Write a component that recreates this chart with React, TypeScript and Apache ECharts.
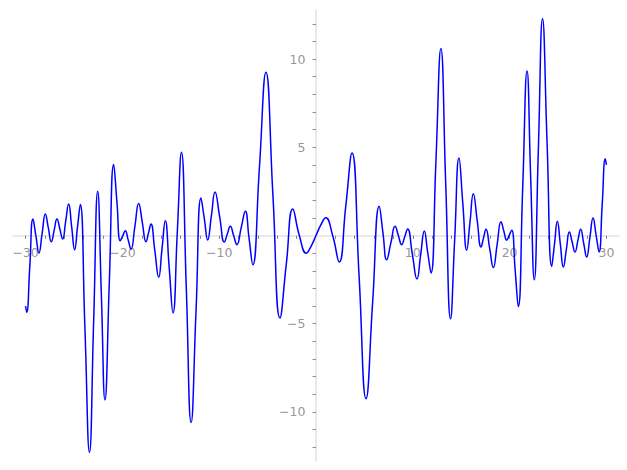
import React, { useEffect, useRef } from "react";
import * as echarts from "echarts";

// x values (left half, then right half)
const xs: number[] = [
  -30, -29.88, -29.56, -29.24, -28.93, -28.62, -28.29, -27.96, -27.65, -27.34,
  -27.05, -26.76, -26.46, -26.17, -25.86, -25.55, -25.24, -24.93, -24.64, -24.35,
  -23.87, -23.4, -22.97, -22.55, -22.17, -21.8, -21.35, -20.9, -20.56, -20.22,
  -19.96, -19.7, -19.4, -19.11, -18.71, -18.32, -17.94, -17.56, -17.3, -17.05,
  -16.65, -16.25, -15.91, -15.57, -15.17, -14.77, -14.33, -13.9, -13.4, -12.9,
  -12.39, -11.88, -11.53, -11.19, -10.81, -10.43, -9.95, -9.47, -9.16, -8.85,
  -8.51, -8.17, -7.73, -7.3, -6.92, -6.53, -5.85, -5.17, -4.45, -3.72,
  -3.06, -2.4, -1.72, -1.0, -0.5,
  0, 0.5, 1.0, 1.72, 2.4, 3.06, 3.72, 4.45, 5.17, 5.85,
  6.53, 6.92, 7.3, 7.73, 8.17, 8.51, 8.85, 9.16, 9.47, 9.95,
  10.43, 10.81, 11.19, 11.53, 11.88, 12.39, 12.9, 13.4, 13.9, 14.33,
  14.77, 15.17, 15.57, 15.91, 16.25, 16.65, 17.05, 17.3, 17.56, 17.94,
  18.32, 18.71, 19.11, 19.4, 19.7, 19.96, 20.22, 20.56, 20.9, 21.35,
  21.8, 22.17, 22.55, 22.97, 23.4, 23.87, 24.35, 24.64, 24.93, 25.24,
  25.55, 25.86, 26.17, 26.46, 26.76, 27.05, 27.34, 27.65, 27.96, 28.29,
  28.62, 28.93, 29.24, 29.56, 29.88, 30,
];

// y values
const ys: number[] = [
  -4.0, -4.35, -1.71, 0.93, -0.03, -0.99, 0.12, 1.22, 0.43, -0.36,
  0.29, 0.93, 0.37, -0.2, 0.8, 1.79, 0.49, -0.81, 0.47, 1.75,
  -5.27, -12.28, -4.89, 2.51, -3.4, -9.32, -2.65, 4.03, 1.87, -0.3,
  -0.02, 0.27, -0.26, -0.78, 0.52, 1.82, 0.73, -0.36, 0.15, 0.65,
  -0.86, -2.37, -0.77, 0.83, -1.78, -4.39, 0.17, 4.72, -2.94, -10.6,
  -4.24, 2.12, 0.93, -0.26, 1.1, 2.46, 1.05, -0.37, 0.08, 0.52,
  0, -0.52, 0.43, 1.38, -0.14, -1.66, 3.8, 9.25, 2.29, -4.67,
  -1.58, 1.5, 0, -1.0, -0.6,
  0, 0.6, 1.0, 0, -1.5, 1.58, 4.67, -2.29, -9.25, -3.8,
  1.66, 0.14, -1.38, -0.43, 0.52, 0, -0.52, -0.08, 0.37, -1.05,
  -2.46, -1.1, 0.26, -0.93, -2.12, 4.24, 10.6, 2.94, -4.72, -0.17,
  4.39, 1.78, -0.83, 0.77, 2.37, 0.86, -0.65, -0.15, 0.36, -0.73,
  -1.82, -0.52, 0.78, 0.26, -0.27, 0.02, 0.3, -1.87, -4.03, 2.65,
  9.32, 3.4, -2.51, 4.89, 12.28, 5.27, -1.75, -0.47, 0.81, -0.49,
  -1.79, -0.8, 0.2, -0.37, -0.93, -0.29, 0.36, -0.43, -1.22, -0.12,
  0.99, 0.03, -0.93, 1.71, 4.35, 4.0,
];

const xTickValues: number[] = [
  -30, -28, -26, -24, -22, -20, -18, -16, -14, -12, -10, -8, -6, -4, -2,
  2, 4, 6, 8, 10, 12, 14, 16, 18, 20, 22, 24, 26, 28, 30,
];
const xLabelValues: number[] = [-30, -20, -10, 10, 20, 30];
const yTickValues: number[] = [
  -12, -11, -10, -9, -8, -7, -6, -5, -4, -3, -2, -1,
  1, 2, 3, 4, 5, 6, 7, 8, 9, 10, 11, 12,
];
const yLabelValues: number[] = [-10, -5, 5, 10];

const fmt = (v: number) => String(v).replace("-", "\u2212");

export default function App() {
  const ref = useRef<HTMLDivElement>(null);
  useEffect(() => {
    if (!ref.current) return;
    const chart = echarts.init(ref.current, undefined, { renderer: "svg" });
    const data = xs.map((x, i) => [x, ys[i]]);
    const textStyle = {
      color: "#7a7a7a",
      fontSize: 12.5,
      fontFamily: "DejaVu Sans",
    };
    chart.setOption({
      animation: false,
      grid: { left: 13, right: 8, top: 10, bottom: 9, containLabel: false, outerBoundsMode: "none" },
      xAxis: {
        type: "value",
        min: -31.3,
        max: 31.3,
        splitLine: { show: false },
        axisLine: { show: true, onZero: true, lineStyle: { color: "#e2e2e2", width: 1.5 } },
        axisTick: { show: true, customValues: xTickValues, length: 3.5, lineStyle: { color: "#8a8a8a", width: 1 } },
        axisLabel: { show: false },
      },
      yAxis: {
        type: "value",
        min: -12.78,
        max: 12.78,
        splitLine: { show: false },
        axisLine: { show: true, onZero: true, lineStyle: { color: "#e2e2e2", width: 1.5 } },
        axisTick: { show: true, customValues: yTickValues, length: 3.5, lineStyle: { color: "#8a8a8a", width: 1 } },
        axisLabel: { show: false },
      },
      series: [
        {
          type: "line",
          data,
          showSymbol: false,
          smooth: 0.5,
          lineStyle: { color: "#0000ff", width: 1.5 },
          z: 3,
        },
        {
          type: "scatter",
          silent: true,
          symbolSize: 1,
          itemStyle: { color: "transparent" },
          data: xLabelValues.map((v) => [v, 0]),
          label: {
            show: true,
            position: "bottom",
            distance: 10,
            ...textStyle,
            formatter: (p: any) => fmt(p.value[0]),
          },
          z: 1,
        },
        {
          type: "scatter",
          silent: true,
          symbolSize: 1,
          itemStyle: { color: "transparent" },
          data: yLabelValues.map((v) => [0, v]),
          label: {
            show: true,
            position: "left",
            distance: 10,
            ...textStyle,
            formatter: (p: any) => fmt(p.value[1]),
          },
          z: 1,
        },
      ],
    });
    return () => chart.dispose();
  }, []);
  return (
    <div
      ref={ref}
      style={{ position: "absolute", left: 0, top: 0, width: 627, height: 470 }}
    />
  );
}
